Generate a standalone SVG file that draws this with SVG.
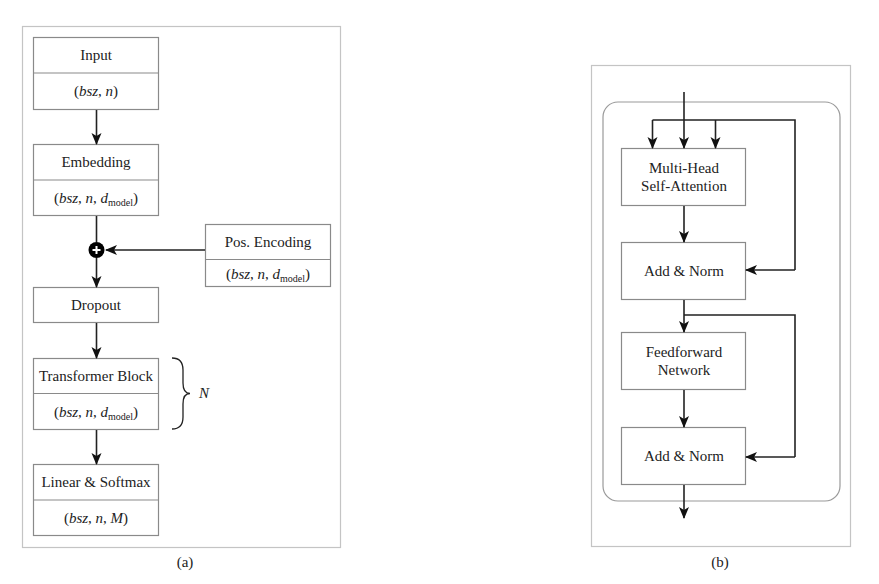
<svg xmlns="http://www.w3.org/2000/svg" width="879" height="584" viewBox="0 0 879 584" font-family="'Liberation Serif', 'DejaVu Serif', serif">
<defs>
<marker id="ah" viewBox="0 0 12 12" refX="11" refY="6" markerWidth="12" markerHeight="12" markerUnits="userSpaceOnUse" orient="auto">
<path d="M0,1 L12,6 L0,11 L3,6 z" fill="#111"/>
</marker>
<style>
.frame{fill:#fff;stroke:#c4c4c4;stroke-width:1.2}
.box{fill:#fff;stroke:#8a8a8a;stroke-width:1.2}
.div{stroke:#8a8a8a;stroke-width:1.2}
.ln{fill:none;stroke:#222;stroke-width:1.6}
.ar{fill:none;stroke:#222;stroke-width:1.6;marker-end:url(#ah)}
.t{font-family:'Liberation Serif','DejaVu Serif',serif;font-size:15px;fill:#222;text-anchor:middle}
.i{font-style:italic}
.s{font-size:10px}
</style>
</defs>
<rect width="879" height="584" fill="#fff"/>
<rect class="frame" x="22.5" y="26.5" width="318" height="521"/>
<rect class="frame" x="591.5" y="65.5" width="259" height="481"/>

<g id="input">
<rect class="box" x="33.5" y="37.5" width="125" height="72"/>
<line class="div" x1="33.5" y1="73" x2="158.5" y2="73"/>
<text class="t" x="96" y="60">Input</text>
<text class="t" x="96" y="96">(<tspan class="i">bsz</tspan>, <tspan class="i">n</tspan>)</text>
</g>
<g id="embedding">
<rect class="box" x="33.5" y="144.5" width="125" height="71"/>
<line class="div" x1="33.5" y1="180" x2="158.5" y2="180"/>
<text class="t" x="96" y="167">Embedding</text>
<text class="t" x="96" y="203">(<tspan class="i">bsz</tspan>, <tspan class="i">n</tspan>, <tspan class="i">d</tspan><tspan class="s" dy="3">model</tspan><tspan dy="-3">)</tspan></text>
</g>
<g id="plus">
<circle cx="96.5" cy="250" r="8" fill="#000"/>
<path d="M92.5,250 H100.5 M96.5,246 V254" stroke="#fff" stroke-width="2"/>
</g>
<g id="posenc">
<rect class="box" x="205.5" y="224.5" width="125" height="62"/>
<line class="div" x1="205.5" y1="259.5" x2="330.5" y2="259.5"/>
<text class="t" x="268" y="247">Pos. Encoding</text>
<text class="t" x="268" y="279">(<tspan class="i">bsz</tspan>, <tspan class="i">n</tspan>, <tspan class="i">d</tspan><tspan class="s" dy="3">model</tspan><tspan dy="-3">)</tspan></text>
</g>
<g id="dropout">
<rect class="box" x="33.5" y="287.5" width="125" height="35"/>
<text class="t" x="96" y="310">Dropout</text>
</g>
<g id="transformer">
<rect class="box" x="33.5" y="358.5" width="125" height="71"/>
<line class="div" x1="33.5" y1="393.5" x2="158.5" y2="393.5"/>
<text class="t" x="96" y="381">Transformer Block</text>
<text class="t" x="96" y="417">(<tspan class="i">bsz</tspan>, <tspan class="i">n</tspan>, <tspan class="i">d</tspan><tspan class="s" dy="3">model</tspan><tspan dy="-3">)</tspan></text>
</g>
<g id="brace">
<path d="M172,358 Q183,358 183,370 V383 Q183,393.5 190,393.5 Q183,393.5 183,404 V417 Q183,429 172,429" fill="none" stroke="#222" stroke-width="1.3"/>
<text class="t i" x="204" y="398">N</text>
</g>
<g id="linear">
<rect class="box" x="33.5" y="464.5" width="125" height="71"/>
<line class="div" x1="33.5" y1="500" x2="158.5" y2="500"/>
<text class="t" x="96" y="487">Linear &amp; Softmax</text>
<text class="t" x="96" y="523">(<tspan class="i">bsz</tspan>, <tspan class="i">n</tspan>, <tspan class="i">M</tspan>)</text>
</g>
<text class="t" x="185" y="567">(a)</text>

<rect x="603" y="102" width="237" height="399" rx="15" fill="none" stroke="#9a9a9a" stroke-width="1.2"/>
<g id="mhsa">
<rect class="box" x="621.5" y="148.5" width="124" height="57"/>
<text class="t" x="684" y="173">Multi-Head</text>
<text class="t" x="684" y="191">Self-Attention</text>
</g>
<g id="addnorm1">
<rect class="box" x="621.5" y="242.5" width="124" height="57"/>
<text class="t" x="684" y="276">Add &amp; Norm</text>
</g>
<g id="ffn">
<rect class="box" x="621.5" y="332.5" width="124" height="57"/>
<text class="t" x="684" y="357">Feedforward</text>
<text class="t" x="684" y="375">Network</text>
</g>
<g id="addnorm2">
<rect class="box" x="621.5" y="427.5" width="124" height="57"/>
<text class="t" x="684" y="461">Add &amp; Norm</text>
</g>
<text class="t" x="720" y="567">(b)</text>

<g id="connectors">
<line class="ar" x1="96.5" y1="110" x2="96.5" y2="144"/>
<line class="ln" x1="96.5" y1="216" x2="96.5" y2="242"/>
<line class="ar" x1="205" y1="250" x2="106" y2="250"/>
<line class="ar" x1="96.5" y1="258" x2="96.5" y2="287"/>
<line class="ar" x1="96.5" y1="323" x2="96.5" y2="358"/>
<line class="ar" x1="96.5" y1="430" x2="96.5" y2="464"/>

<line class="ar" x1="684" y1="92" x2="684" y2="148"/>
<path class="ln" d="M652.5,120 H795 V270"/>
<line class="ar" x1="652.5" y1="120" x2="652.5" y2="148"/>
<line class="ar" x1="715.5" y1="120" x2="715.5" y2="148"/>
<line class="ar" x1="795" y1="270" x2="746" y2="270"/>
<line class="ar" x1="684" y1="206" x2="684" y2="242"/>
<line class="ar" x1="684" y1="300" x2="684" y2="332"/>
<path class="ln" d="M684,315 H795 V457"/>
<line class="ar" x1="795" y1="457" x2="746" y2="457"/>
<line class="ar" x1="684" y1="390" x2="684" y2="427"/>
<line class="ar" x1="684" y1="485" x2="684" y2="518"/>
</g>
</svg>
